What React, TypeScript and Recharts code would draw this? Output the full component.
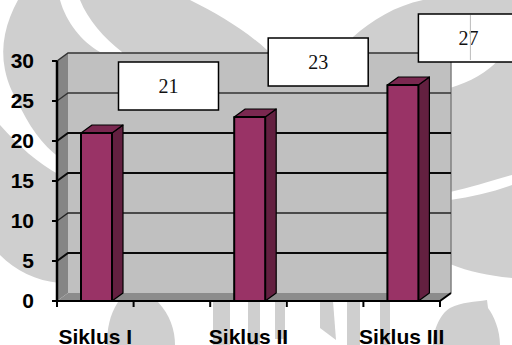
import React from 'react';
import { BarChart, Bar, XAxis, YAxis, LabelList, usePlotArea } from 'recharts';

// Five category slots along the axis: the cycles sit in slots 1, 3 and 5.
const cycles = ['Siklus I', '', 'Siklus II', '', 'Siklus III'];
const scores = [21, null, 23, null, 27];
const scoreTicks = [0, 5, 10, 15, 20, 25, 30];

const rows = cycles.map((cycle, i) => ({ cycle, score: scores[i] }));

const WIDTH = 512;
const HEIGHT = 345;
const Y_MAX = 30;
const DEPTH_X = 11;
const DEPTH_Y = 8;
const BAR_NUDGE = 1;
const SANS = '"Liberation Sans", Arial, sans-serif';
const SERIF = '"Liberation Serif", "Times New Roman", serif';

// Callout box placement relative to each drawn bar's top-left corner.
const calloutOffset = [
  { dx: 38.5, dy: -71 },
  { dx: 35, dy: -79 },
  { dx: 32, dy: -71 },
];

// Stroke weight of each gridline on the back wall.
const gridWeight: Record<number, { w: number; c: string }> = {
  0: { w: 0, c: '#000' },
  5: { w: 2, c: '#0a0a0a' },
  10: { w: 1.3, c: '#222' },
  15: { w: 2, c: '#0a0a0a' },
  20: { w: 2, c: '#0a0a0a' },
  25: { w: 1.3, c: '#333' },
  30: { w: 1.5, c: '#333' },
};

// Faint logo artwork printed behind the chart.
function Watermark() {
  const gray = '#cfcfcf';
  return (
    <svg width={WIDTH} height={HEIGHT} style={{ position: 'absolute', left: 0, top: 0 }}>
      <path fill={gray} d="M18 0 C6 22 0 45 5 70 C8 84 12 92 17 100 C28 125 42 145 60 158 L120 160 L120 52 L100 52 C82 42 66 22 60 0 Z" />
      <path fill={gray} d="M80 0 L190 0 C218 14 245 30 267 50 L300 120 L122 120 L122 52 C104 38 88 20 80 0 Z" />
      <path fill={gray} d="M0 125 C18 145 38 164 60 175 L60 283 C36 281 15 270 0 255 Z" />
      <path fill={gray} d="M353 37 C372 20 395 6 423 0 L512 0 L512 60 L440 60 L400 100 L350 60 Z" />
      <path fill={gray} d="M450 88 C470 82 488 72 498 60 L512 60 L512 175 C490 181 470 188 450 192 Z" />
      <path fill={gray} d="M450 200 C472 197 492 192 512 185 L512 278 C490 276 470 272 450 264 Z" />
      <path fill={gray} d="M107 345 C107 330 109 316 118 302 L158 302 C170 315 175 330 175 345 Z" />
      <path fill={gray} d="M433 345 C433 330 440 314 450 308 C462 302 475 302 487 300 L488 308 C494 316 500 330 500 345 Z" />
      <rect fill={gray} x={213} y={301} width={17} height={44} />
      <rect fill={gray} x={248} y={301} width={12} height={44} />
      <rect fill={gray} x={275} y={301} width={10} height={38} />
      <path fill={gray} d="M320 301 L333 301 L336 340 L320 328 Z" />
      <rect fill={gray} x={347} y={301} width={13} height={44} />
      <rect fill={gray} x={380} y={301} width={10} height={44} />
    </svg>
  );
}

// Back wall, side wall, floor and gridlines of the 3D plot box.
function PlotBox() {
  const plot = usePlotArea();
  if (!plot) return null;
  const left = plot.x;
  const right = plot.x + plot.width;
  const bottom = plot.y + plot.height;
  const top = plot.y;
  const yOf = (v: number) => bottom - (v / Y_MAX) * plot.height;
  return (
    <g>
      <rect x={left + DEPTH_X} y={top - DEPTH_Y} width={plot.width} height={plot.height} fill="#c0c0c0" />
      <polygon
        points={`${left},${bottom} ${left + DEPTH_X},${bottom - DEPTH_Y} ${left + DEPTH_X},${top - DEPTH_Y} ${left},${top}`}
        fill="#858585"
      />
      <polygon
        points={`${left},${bottom} ${left + DEPTH_X},${bottom - DEPTH_Y} ${right + DEPTH_X},${bottom - DEPTH_Y} ${right},${bottom}`}
        fill="#8c8c8c"
      />
      <line x1={right + DEPTH_X} y1={top - DEPTH_Y} x2={right + DEPTH_X} y2={bottom - DEPTH_Y} stroke="#808080" strokeWidth={1.5} />
      {scoreTicks.map((v) => {
        const { w, c } = gridWeight[v];
        if (!w) return null;
        const y = yOf(v);
        return (
          <polyline
            key={v}
            points={`${left},${y} ${left + DEPTH_X},${y - DEPTH_Y} ${right + DEPTH_X},${y - DEPTH_Y}`}
            fill="none"
            stroke={c}
            strokeWidth={w}
          />
        );
      })}
    </g>
  );
}

// Tick marks on the slot boundaries and the slanted end of the floor edge.
function SlotTicks() {
  const plot = usePlotArea();
  if (!plot) return null;
  const bottom = plot.y + plot.height;
  const right = plot.x + plot.width;
  return (
    <g stroke="#000" strokeWidth={2}>
      {cycles.concat('').map((_, i) => {
        const x = plot.x + (i * plot.width) / cycles.length;
        return <line key={i} x1={x} y1={bottom} x2={x} y2={bottom + 6} />;
      })}
      <line x1={right} y1={bottom} x2={right + DEPTH_X} y2={bottom - DEPTH_Y} />
    </g>
  );
}

// A bar with its front, side and top faces.
function Bar3D(props: any) {
  const { y, width, height, value } = props;
  if (value == null || !height) return null;
  const x = props.x + BAR_NUDGE;
  const bottom = y + height;
  return (
    <g stroke="#000" strokeLinejoin="round">
      <polygon
        points={`${x + width},${y} ${x + width + DEPTH_X},${y - DEPTH_Y} ${x + width + DEPTH_X},${bottom - DEPTH_Y} ${x + width},${bottom}`}
        fill="#632040"
        strokeWidth={1.2}
      />
      <polygon
        points={`${x},${y} ${x + DEPTH_X},${y - DEPTH_Y} ${x + width + DEPTH_X},${y - DEPTH_Y} ${x + width},${y}`}
        fill="#7a2850"
        strokeWidth={1.2}
      />
      <rect x={x} y={y} width={width} height={height} fill="#993366" strokeWidth={2} />
    </g>
  );
}

// White value callout that floats up and to the right of its bar.
function Callout(props: any) {
  const { x, y, value, index } = props;
  const place = calloutOffset[index];
  if (value == null || !place) return null;
  const bx = x + place.dx;
  const by = y + place.dy;
  return (
    <g>
      <rect x={bx} y={by} width={100} height={48} fill="#fff" stroke="#000" strokeWidth={1.5} />
      <text x={bx + 50} y={by + 31} textAnchor="middle" fontFamily={SERIF} fontSize={20} fill="#111">
        {value}
      </text>
      {index === 2 && <line x1={bx + 52} y1={by + 1} x2={bx + 52} y2={by + 46} stroke="#bbb" strokeWidth={1} />}
    </g>
  );
}

export default function App() {
  return (
    <div style={{ position: 'absolute', left: 0, top: 0, width: WIDTH, height: HEIGHT, overflow: 'hidden', background: '#fff' }}>
      <Watermark />
      <div style={{ position: 'absolute', left: 0, top: 0 }}>
        <BarChart width={WIDTH} height={HEIGHT} data={rows} barSize={31} margin={{ top: 61, right: 72, bottom: 0, left: 0 }}>
          <PlotBox />
          <XAxis
            dataKey="cycle"
            interval={0}
            height={44}
            tickSize={0}
            tickMargin={28}
            axisLine={{ stroke: '#000', strokeWidth: 2 }}
            tickLine={false}
            tick={{ fontSize: 21, fontWeight: 700, fontFamily: SANS, fill: '#000' }}
          />
          <YAxis
            width={57}
            domain={[0, Y_MAX]}
            ticks={scoreTicks}
            interval={0}
            tickSize={5}
            tickMargin={18}
            axisLine={{ stroke: '#000', strokeWidth: 2.5 }}
            tickLine={{ stroke: '#000', strokeWidth: 2 }}
            tick={{ fontSize: 21, fontWeight: 700, fontFamily: SANS, fill: '#000' }}
          />
          <Bar dataKey="score" isAnimationActive={false} shape={<Bar3D />}>
            <LabelList dataKey="score" content={<Callout />} />
          </Bar>
          <SlotTicks />
        </BarChart>
      </div>
    </div>
  );
}
